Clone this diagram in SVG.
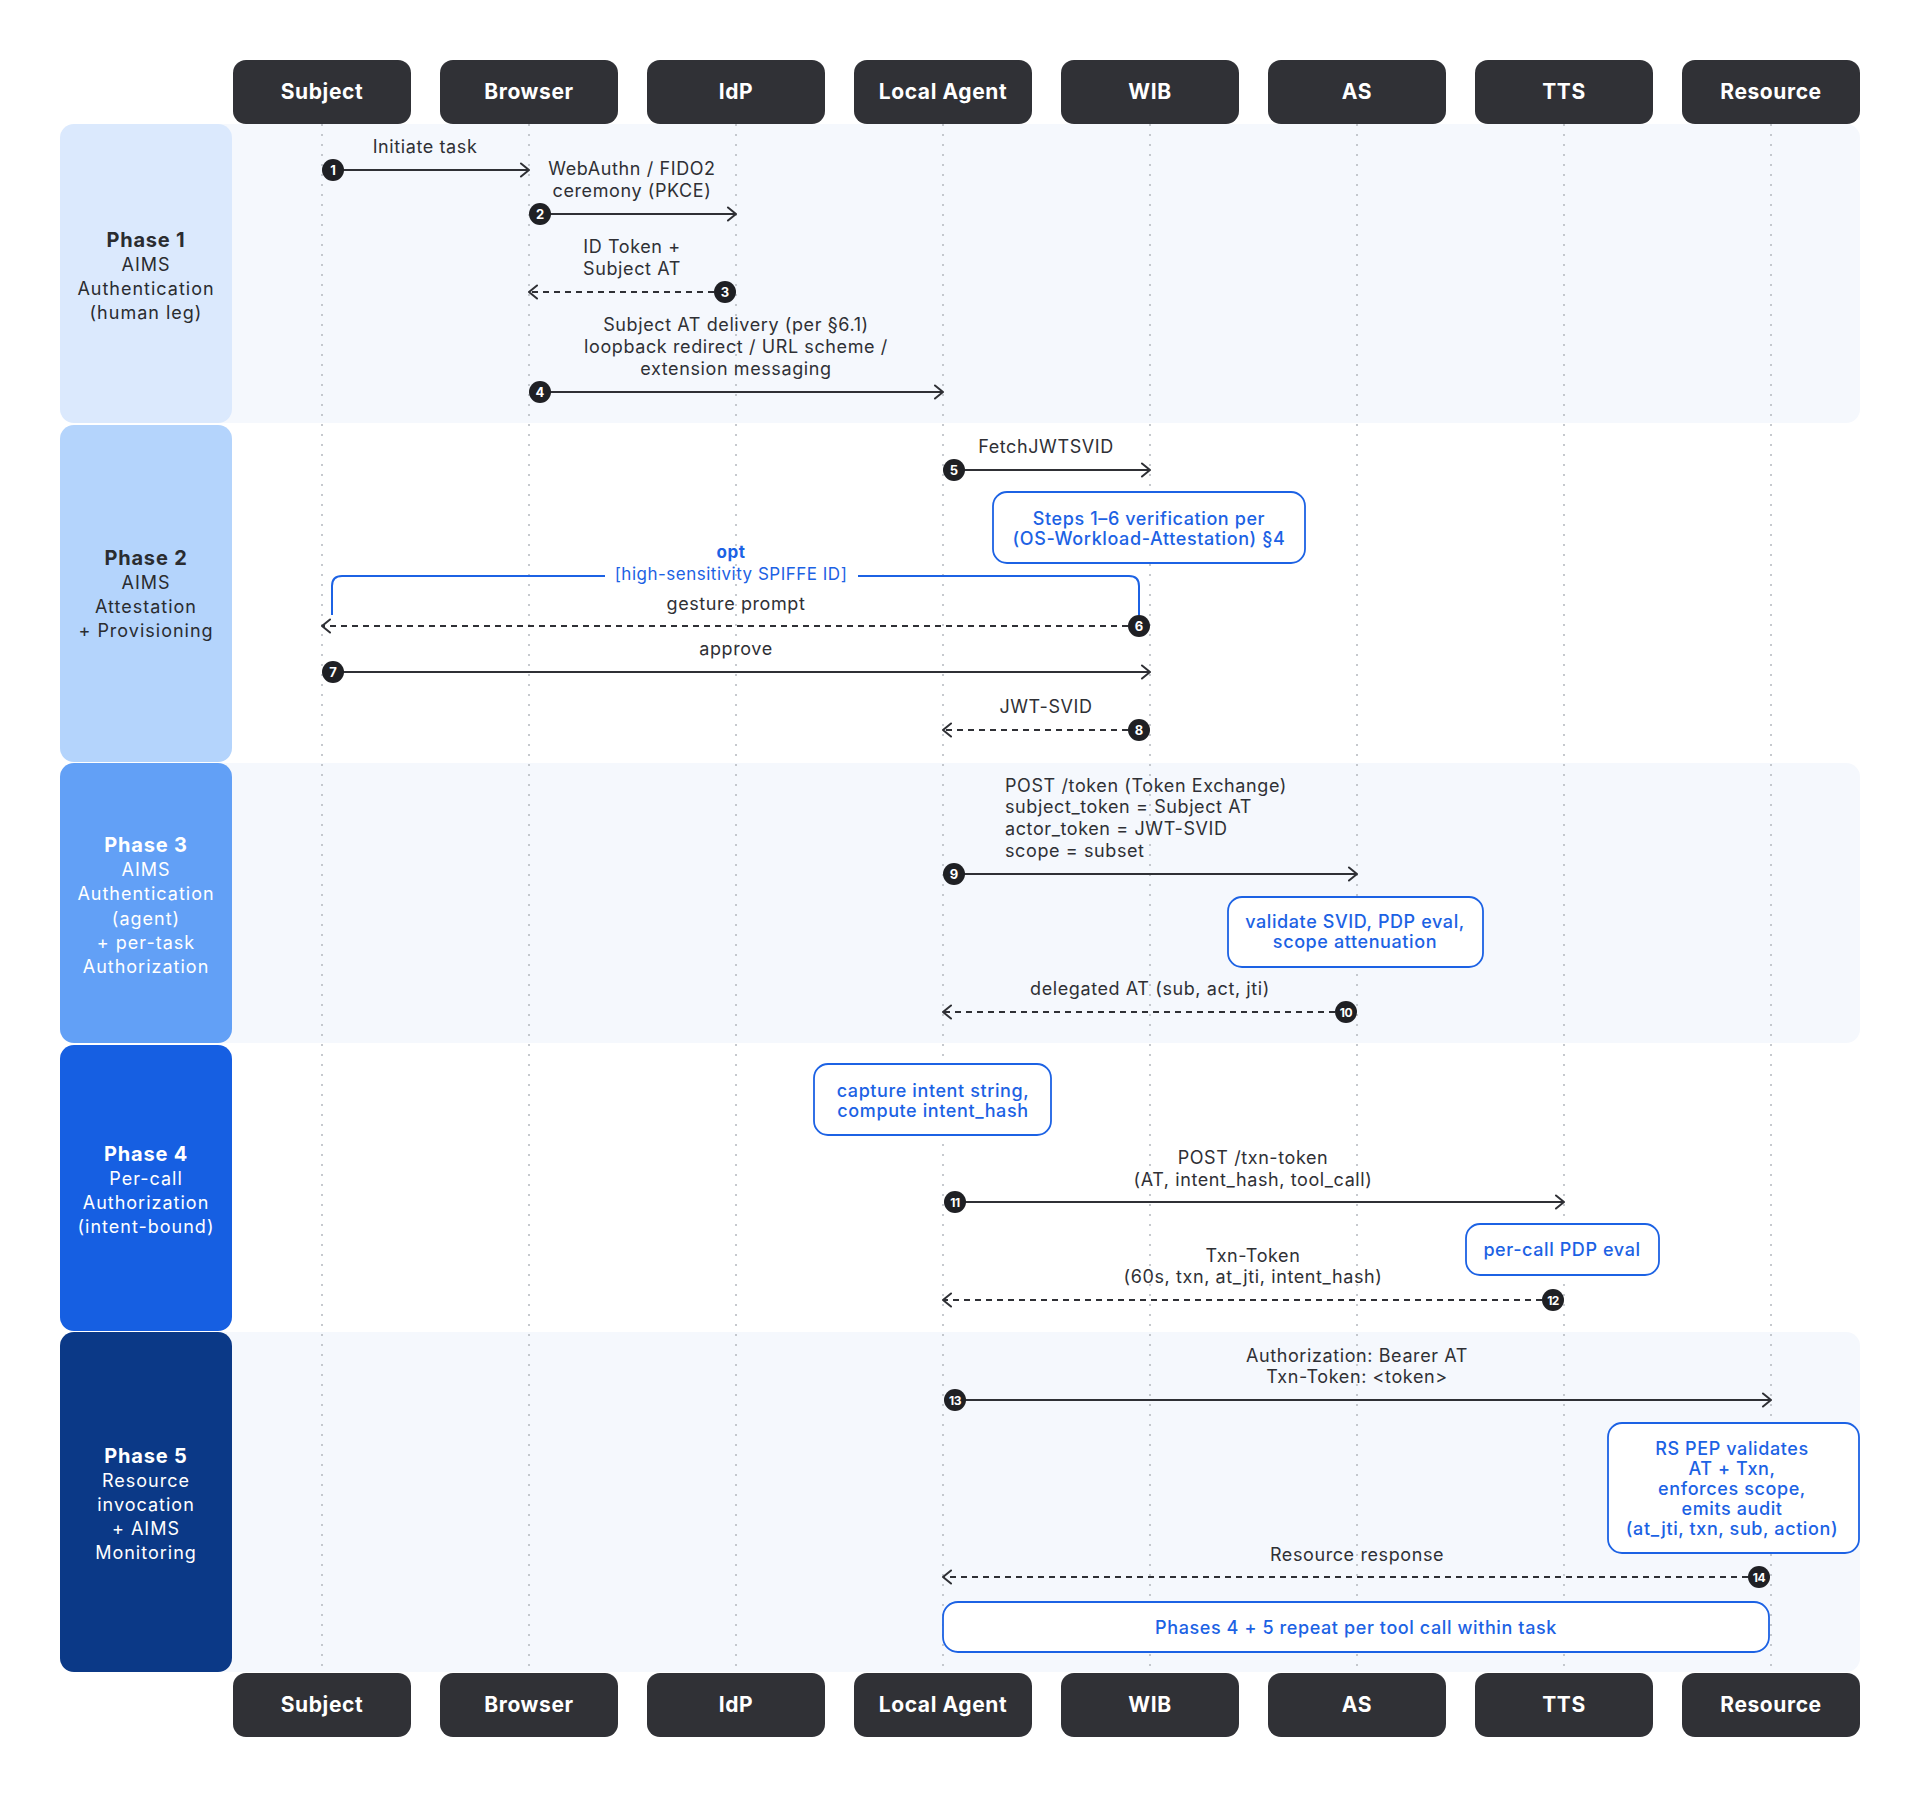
<svg xmlns="http://www.w3.org/2000/svg" width="1920" height="1800" viewBox="0 0 1920 1800">
<defs>
<style>
.hdr{fill:#303136}
.hdrt{fill:#ffffff;font-family:Inter,"Liberation Sans",sans-serif;font-weight:700;font-size:21px;letter-spacing:0.6px;text-anchor:middle}
.life{stroke:#b4b8bf;stroke-width:1.5;stroke-dasharray:2 8;fill:none}
.panel{fill:#f5f8fd}
.pt{font-family:Inter,"Liberation Sans",sans-serif;font-size:18px;letter-spacing:1px;text-anchor:middle}
.ptb{font-weight:700;font-size:20px;letter-spacing:0.8px}
.dark{fill:#2a2c30}
.white{fill:#ffffff}
.lbl{font-family:Inter,"Liberation Sans",sans-serif;font-size:18px;letter-spacing:0.6px;fill:#2f3035;text-anchor:middle}
.lbll{text-anchor:start}
.msg{stroke:#2f3035;stroke-width:2;fill:none}
.dash{stroke-dasharray:6 5}
.badge{fill:#1f2024}
.bt{font-family:Inter,"Liberation Sans",sans-serif;font-weight:700;font-size:13px;fill:#ffffff;text-anchor:middle}
.bt2{font-size:12px;letter-spacing:-0.5px}
.note{fill:#ffffff;stroke:#1c62e4;stroke-width:1.8}
.nt{font-family:Inter,"Liberation Sans",sans-serif;font-weight:500;font-size:18px;letter-spacing:0.6px;fill:#1c62e4;text-anchor:middle}
.opt{stroke:#1c62e4;stroke-width:2;fill:none}
.optt{font-family:Inter,"Liberation Sans",sans-serif;font-size:17px;letter-spacing:0.5px;fill:#1c62e4;text-anchor:middle}
</style>
<marker id="ah" viewBox="0 0 12 16" refX="11" refY="8" markerWidth="12" markerHeight="16" orient="auto" markerUnits="userSpaceOnUse">
<path d="M3,1.5 L11,8 L3,14.5" fill="none" stroke="#2f3035" stroke-width="2" stroke-linecap="round" stroke-linejoin="round"/>
</marker>
</defs>
<rect width="1920" height="1800" fill="#ffffff"/>

<!-- phase background panels -->
<g id="panels">
<rect class="panel" x="200" y="124" width="1660" height="299" rx="14"/>
<rect class="panel" x="200" y="763" width="1660" height="280" rx="14"/>
<rect class="panel" x="200" y="1332" width="1660" height="340" rx="14"/>
</g>

<!-- phase boxes -->
<g id="phase1">
<rect x="60" y="124" width="172" height="299" rx="14" fill="#dbe9fd"/>
<text class="pt dark"><tspan class="ptb" x="146" y="247">Phase 1</tspan><tspan x="146" y="271">AIMS</tspan><tspan x="146" y="295">Authentication</tspan><tspan x="146" y="319">(human leg)</tspan></text>
</g>
<g id="phase2">
<rect x="60" y="425" width="172" height="337" rx="14" fill="#b4d4fc"/>
<text class="pt dark"><tspan class="ptb" x="146" y="565">Phase 2</tspan><tspan x="146" y="589">AIMS</tspan><tspan x="146" y="613">Attestation</tspan><tspan x="146" y="637">+ Provisioning</tspan></text>
</g>
<g id="phase3">
<rect x="60" y="763" width="172" height="280" rx="14" fill="#62a0f6"/>
<text class="pt white"><tspan class="ptb" x="146" y="852">Phase 3</tspan><tspan x="146" y="876">AIMS</tspan><tspan x="146" y="900">Authentication</tspan><tspan x="146" y="925">(agent)</tspan><tspan x="146" y="949">+ per-task</tspan><tspan x="146" y="973">Authorization</tspan></text>
</g>
<g id="phase4">
<rect x="60" y="1045" width="172" height="286" rx="14" fill="#165fe2"/>
<text class="pt white"><tspan class="ptb" x="146" y="1161">Phase 4</tspan><tspan x="146" y="1185">Per-call</tspan><tspan x="146" y="1209">Authorization</tspan><tspan x="146" y="1233">(intent-bound)</tspan></text>
</g>
<g id="phase5">
<rect x="60" y="1332" width="172" height="340" rx="14" fill="#0b3987"/>
<text class="pt white"><tspan class="ptb" x="146" y="1463">Phase 5</tspan><tspan x="146" y="1487">Resource</tspan><tspan x="146" y="1511">invocation</tspan><tspan x="146" y="1535">+ AIMS</tspan><tspan x="146" y="1559">Monitoring</tspan></text>
</g>

<!-- lifelines -->
<g id="lifelines">
<line class="life" x1="322" y1="124" x2="322" y2="1673"/>
<line class="life" x1="529" y1="124" x2="529" y2="1673"/>
<line class="life" x1="736" y1="124" x2="736" y2="1673"/>
<line class="life" x1="943" y1="124" x2="943" y2="1673"/>
<line class="life" x1="1150" y1="124" x2="1150" y2="1673"/>
<line class="life" x1="1357" y1="124" x2="1357" y2="1673"/>
<line class="life" x1="1564" y1="124" x2="1564" y2="1673"/>
<line class="life" x1="1771" y1="124" x2="1771" y2="1673"/>
</g>

<!-- participant headers -->
<g id="subject-top"><rect class="hdr" x="233" y="60" width="178" height="64" rx="13"/><text class="hdrt" x="322" y="99">Subject</text></g>
<g id="browser-top"><rect class="hdr" x="440" y="60" width="178" height="64" rx="13"/><text class="hdrt" x="529" y="99">Browser</text></g>
<g id="idp-top"><rect class="hdr" x="647" y="60" width="178" height="64" rx="13"/><text class="hdrt" x="736" y="99">IdP</text></g>
<g id="agent-top"><rect class="hdr" x="854" y="60" width="178" height="64" rx="13"/><text class="hdrt" x="943" y="99">Local Agent</text></g>
<g id="wib-top"><rect class="hdr" x="1061" y="60" width="178" height="64" rx="13"/><text class="hdrt" x="1150" y="99">WIB</text></g>
<g id="as-top"><rect class="hdr" x="1268" y="60" width="178" height="64" rx="13"/><text class="hdrt" x="1357" y="99">AS</text></g>
<g id="tts-top"><rect class="hdr" x="1475" y="60" width="178" height="64" rx="13"/><text class="hdrt" x="1564" y="99">TTS</text></g>
<g id="resource-top"><rect class="hdr" x="1682" y="60" width="178" height="64" rx="13"/><text class="hdrt" x="1771" y="99">Resource</text></g>

<g id="subject-bottom"><rect class="hdr" x="233" y="1673" width="178" height="64" rx="13"/><text class="hdrt" x="322" y="1712">Subject</text></g>
<g id="browser-bottom"><rect class="hdr" x="440" y="1673" width="178" height="64" rx="13"/><text class="hdrt" x="529" y="1712">Browser</text></g>
<g id="idp-bottom"><rect class="hdr" x="647" y="1673" width="178" height="64" rx="13"/><text class="hdrt" x="736" y="1712">IdP</text></g>
<g id="agent-bottom"><rect class="hdr" x="854" y="1673" width="178" height="64" rx="13"/><text class="hdrt" x="943" y="1712">Local Agent</text></g>
<g id="wib-bottom"><rect class="hdr" x="1061" y="1673" width="178" height="64" rx="13"/><text class="hdrt" x="1150" y="1712">WIB</text></g>
<g id="as-bottom"><rect class="hdr" x="1268" y="1673" width="178" height="64" rx="13"/><text class="hdrt" x="1357" y="1712">AS</text></g>
<g id="tts-bottom"><rect class="hdr" x="1475" y="1673" width="178" height="64" rx="13"/><text class="hdrt" x="1564" y="1712">TTS</text></g>
<g id="resource-bottom"><rect class="hdr" x="1682" y="1673" width="178" height="64" rx="13"/><text class="hdrt" x="1771" y="1712">Resource</text></g>

<!-- notes -->
<g id="note-attestation">
<rect class="note" x="993" y="492" width="312" height="71" rx="14"/>
<text class="nt"><tspan x="1149" y="525">Steps 1–6 verification per</tspan><tspan x="1149" y="545">(OS-Workload-Attestation) §4</tspan></text>
</g>
<g id="note-as">
<rect class="note" x="1228" y="897" width="255" height="70" rx="14"/>
<text class="nt"><tspan x="1355" y="928">validate SVID, PDP eval,</tspan><tspan x="1355" y="948">scope attenuation</tspan></text>
</g>
<g id="note-intent">
<rect class="note" x="814" y="1064" width="237" height="71" rx="14"/>
<text class="nt"><tspan x="933" y="1097">capture intent string,</tspan><tspan x="933" y="1117">compute intent_hash</tspan></text>
</g>
<g id="note-tts">
<rect class="note" x="1466" y="1224" width="193" height="51" rx="14"/>
<text class="nt" x="1562" y="1256">per-call PDP eval</text>
</g>
<g id="note-rs">
<rect class="note" x="1608" y="1423" width="251" height="130" rx="14"/>
<text class="nt"><tspan x="1732" y="1455">RS PEP validates</tspan><tspan x="1732" y="1475">AT + Txn,</tspan><tspan x="1732" y="1495">enforces scope,</tspan><tspan x="1732" y="1515">emits audit</tspan><tspan x="1732" y="1535">(at_jti, txn, sub, action)</tspan></text>
</g>
<g id="note-repeat">
<rect class="note" x="943" y="1602" width="826" height="50" rx="15"/>
<text class="nt" x="1356" y="1634">Phases 4 + 5 repeat per tool call within task</text>
</g>

<!-- opt frame -->
<g id="opt-frame">
<path class="opt" d="M332,615 V586 Q332,576 342,576 H605 M858,576 H1129 Q1139,576 1139,586 V615"/>
<text class="optt" x="731" y="558" font-weight="700">opt</text>
<text class="optt" x="731" y="580">[high-sensitivity SPIFFE ID]</text>
</g>

<!-- connectors -->
<g id="connectors">
<text class="lbl" x="425" y="153">Initiate task</text>
<line class="msg" x1="333" y1="170" x2="529" y2="170" marker-end="url(#ah)"/>
<circle class="badge" cx="333" cy="170" r="11"/><text class="bt" x="333" y="174.5">1</text>

<text class="lbl"><tspan x="632" y="175">WebAuthn / FIDO2</tspan><tspan x="632" y="197">ceremony (PKCE)</tspan></text>
<line class="msg" x1="540" y1="214" x2="736" y2="214" marker-end="url(#ah)"/>
<circle class="badge" cx="540" cy="214" r="11"/><text class="bt" x="540" y="218.5">2</text>

<text class="lbl"><tspan x="632" y="253">ID Token +</tspan><tspan x="632" y="275">Subject AT</tspan></text>
<line class="msg dash" x1="725" y1="292" x2="529" y2="292" marker-end="url(#ah)"/>
<circle class="badge" cx="725" cy="292" r="11"/><text class="bt" x="725" y="296.5">3</text>

<text class="lbl"><tspan x="736" y="331">Subject AT delivery (per §6.1)</tspan><tspan x="736" y="353">loopback redirect / URL scheme /</tspan><tspan x="736" y="375">extension messaging</tspan></text>
<line class="msg" x1="540" y1="392" x2="943" y2="392" marker-end="url(#ah)"/>
<circle class="badge" cx="540" cy="392" r="11"/><text class="bt" x="540" y="396.5">4</text>

<text class="lbl" x="1046" y="453">FetchJWTSVID</text>
<line class="msg" x1="954" y1="470" x2="1150" y2="470" marker-end="url(#ah)"/>
<circle class="badge" cx="954" cy="470" r="11"/><text class="bt" x="954" y="474.5">5</text>

<text class="lbl" x="736" y="610">gesture prompt</text>
<line class="msg dash" x1="1139" y1="626" x2="322" y2="626" marker-end="url(#ah)"/>
<circle class="badge" cx="1139" cy="626" r="11"/><text class="bt" x="1139" y="630.5">6</text>

<text class="lbl" x="736" y="655">approve</text>
<line class="msg" x1="333" y1="672" x2="1150" y2="672" marker-end="url(#ah)"/>
<circle class="badge" cx="333" cy="672" r="11"/><text class="bt" x="333" y="676.5">7</text>

<text class="lbl" x="1046" y="713">JWT-SVID</text>
<line class="msg dash" x1="1139" y1="730" x2="943" y2="730" marker-end="url(#ah)"/>
<circle class="badge" cx="1139" cy="730" r="11"/><text class="bt" x="1139" y="734.5">8</text>

<text class="lbl lbll"><tspan x="1005" y="792">POST /token (Token Exchange)</tspan><tspan x="1005" y="813">subject_token = Subject AT</tspan><tspan x="1005" y="835">actor_token = JWT-SVID</tspan><tspan x="1005" y="857">scope = subset</tspan></text>
<line class="msg" x1="954" y1="874" x2="1357" y2="874" marker-end="url(#ah)"/>
<circle class="badge" cx="954" cy="874" r="11"/><text class="bt" x="954" y="878.5">9</text>

<text class="lbl" x="1150" y="995">delegated AT (sub, act, jti)</text>
<line class="msg dash" x1="1346" y1="1012" x2="943" y2="1012" marker-end="url(#ah)"/>
<circle class="badge" cx="1346" cy="1012" r="11"/><text class="bt bt2" x="1346" y="1016.5">10</text>

<text class="lbl"><tspan x="1253" y="1164">POST /txn-token</tspan><tspan x="1253" y="1186">(AT, intent_hash, tool_call)</tspan></text>
<line class="msg" x1="955" y1="1202" x2="1564" y2="1202" marker-end="url(#ah)"/>
<circle class="badge" cx="955" cy="1202" r="11"/><text class="bt bt2" x="955" y="1206.5">11</text>

<text class="lbl"><tspan x="1253" y="1262">Txn-Token</tspan><tspan x="1253" y="1283">(60s, txn, at_jti, intent_hash)</tspan></text>
<line class="msg dash" x1="1553" y1="1300" x2="943" y2="1300" marker-end="url(#ah)"/>
<circle class="badge" cx="1553" cy="1300" r="11"/><text class="bt bt2" x="1553" y="1304.5">12</text>

<text class="lbl"><tspan x="1357" y="1362">Authorization: Bearer AT</tspan><tspan x="1357" y="1383">Txn-Token: &lt;token&gt;</tspan></text>
<line class="msg" x1="955" y1="1400" x2="1771" y2="1400" marker-end="url(#ah)"/>
<circle class="badge" cx="955" cy="1400" r="11"/><text class="bt bt2" x="955" y="1404.5">13</text>

<text class="lbl" x="1357" y="1561">Resource response</text>
<line class="msg dash" x1="1759" y1="1577" x2="943" y2="1577" marker-end="url(#ah)"/>
<circle class="badge" cx="1759" cy="1577" r="11"/><text class="bt bt2" x="1759" y="1581.5">14</text>
</g>
</svg>
